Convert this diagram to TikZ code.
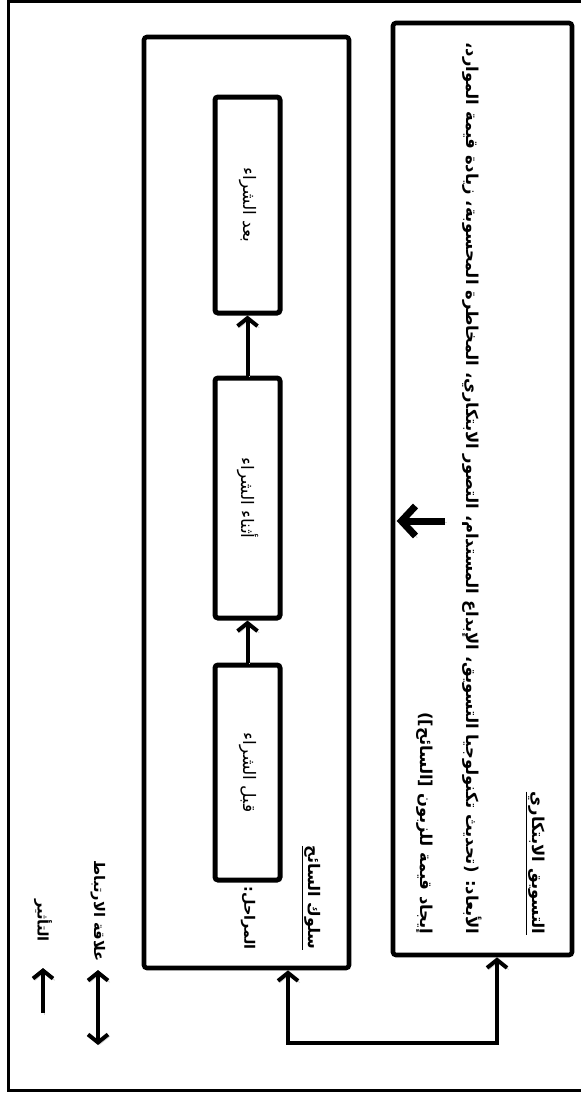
\documentclass[tikz,border=0pt]{standalone}
\usepackage{fontspec}
\usetikzlibrary{arrows.meta}
\newfontfamily\arabicfont[Script=Arabic]{DejaVu Sans}
\TeXXeTstate=1
\def\artext#1{{\arabicfont\beginR #1\endR}}

\tikzset{
  box/.style={draw, line width=2.3pt, rounded corners=1.5pt, inner sep=0pt},
  stagebox/.style={draw, line width=2.5pt, rounded corners=1.5pt, rotate=-90,
    minimum height=32.5pt, inner sep=0pt, font=\fontsize{8.6}{10}\selectfont},
  rtext/.style={rotate=-90, anchor=east, inner sep=0pt},
  big/.style={font=\bfseries\fontsize{#1}{12}\selectfont},
  big/.default=8.2,
  shade/.style={preaction={draw=black!18, transform canvas={shift={(0.9pt,-0.9pt)}}}},
  flow/.style={line width=2pt, ->, shade},
}

\begin{document}
\begin{tikzpicture}[x=0.5pt, y=-0.5pt, >={Straight Barb[length=4pt,width=10pt]}]
		\useasboundingbox (0,0) rectangle (580,1093);
		%%%%% START %%%%%
		
		\draw[line width=1.5pt] (8,1.5) rectangle (586,1090);
		
		% marketing box
		\node[box, minimum width=89.5pt, minimum height=466pt] (mkt) at (482.5,489) {};
		\node[rtext, big] (mkttitle) at (535,935) {\underline{\artext{التسويق الابتكاري}}};
		\node[rtext, big] (mktdims) at (472,935) {\artext{الأبعاد: (تحديث تكنولوجيا التسويق، الإبداع المستدام، التصور الابتكاري، المخاطرة المحسوبة، زيادة قيمة الموارد،}};
		\node[rtext, big] (mktvalue) at (425,935) {\artext{إيجاد قيمة للزبون [السائح])}};
		\coordinate (cue) at (445,521);
		\draw[flow, line width=3.5pt, >={Straight Barb[length=7pt,width=15pt]}, shorten >=3pt] (cue) -- (cue -| mkt.west);
		
		% tourist behaviour box
		\node[box, minimum width=102.5pt, minimum height=465.5pt] (tour) at (246.5,502.5) {};
		\node[rtext, big=8] (tourtitle) at (311,950) {\underline{\artext{سلوك السائح}}};
		\node[rtext, big=7.2] (stages) at (248,950) {\artext{المراحل:}};
		
		\node[stagebox, minimum width=107.5pt] (before) at (247.5,772.5) {\artext{قبل الشراء}};
		\node[stagebox, minimum width=120pt] (during) at (247.5,498) {\artext{أثناء الشراء}};
		\node[stagebox, minimum width=108pt] (after) at (247.5,205) {\artext{بعد الشراء}};
		\draw[flow] (before) -- (during);
		\draw[flow] (during) -- (after);
		
		% link between the two boxes
		\coordinate (j1) at (497,1043);
		\coordinate (j2) at (288,1043);
		\draw[flow, <->] (mkt.south -| j1) -- (j1) -- (j2) -- (tour.south -| j2);
		
		% legend
		\coordinate (k1) at (98,1045);
		\coordinate (k2) at (98,970);
		\draw[flow, <->] (k1) -- (k2);
		\node[rtext, big=7.3] (linklbl) at (98,962) {\artext{علاقة الارتباط}};
		\coordinate (e1) at (43,1013);
		\coordinate (e2) at (43,968);
		\draw[flow] (e1) -- (e2);
		\node[rtext, big=7.3] (efflbl) at (43,942) {\artext{التأثير}};
		
		%%%%% END %%%%%
	\end{tikzpicture}
\end{document}
